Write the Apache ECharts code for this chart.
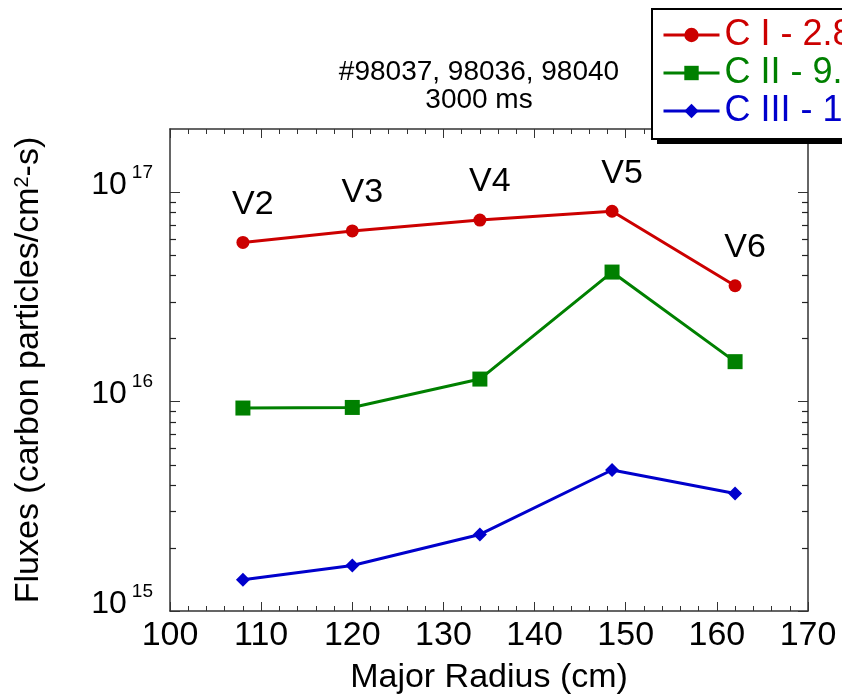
<!DOCTYPE html>
<html>
<head>
<meta charset="utf-8">
<title>Carbon fluxes vs major radius</title>
<script src="https://cdn.jsdelivr.net/npm/echarts@6/dist/echarts.min.js"></script>
<style>
    html, body { margin: 0; padding: 0; background: #fff; }
    #chartMain { width: 842px; height: 700px; }
</style>
</head>
<body>
<div id="chartMain"></div>
<script>
// values
const majorRadius = [108, 120, 134, 148.5, 162];
const cOneFlux = [5.75e16, 6.52e16, 7.35e16, 8.1e16, 3.57e16];
const cTwoFlux = [9.31e15, 9.37e15, 1.28e16, 4.15e16, 1.55e16];
const cThreeFlux = [1.41e15, 1.65e15, 2.32e15, 4.71e15, 3.64e15];
const stationLabels = ['V2', 'V3', 'V4', 'V5', 'V6'];
const seriesNames = ['C I - 2.8 eV', 'C II - 9. eV', 'C III - 1 eV'];
const seriesColors = ['#cc0000', '#008000', '#0000cc'];
const xTicks = [100, 170, 10];          // min, max, step
const yRange = [1e15, 2e17];
const minorMultipliers = [2, 3, 4, 5, 6, 7, 8, 9];
const minorDecades = [1e15, 1e16, 1e17];

const FONT = '"Liberation Sans", Arial, Helvetica, sans-serif';
const AXIS_COLOR = '#333';

const pairs = (xs, ys) => xs.map((x, i) => [x, ys[i]]);

const minorTickValues = () => {
    var out = [];
    minorDecades.forEach(function (d) {
        minorMultipliers.forEach(function (m) {
            var v = d * m;
            if (v < yRange[1]) { out.push([xTicks[0], v]); }
        });
    });
    return out;
};

const chartInit = () => {
    var chartDom = document.getElementById('chartMain');
    var myChart = echarts.init(chartDom, null, { renderer: 'canvas' });
    var option;

    var xAxisBase = {
        type: 'value',
        min: xTicks[0],
        max: xTicks[1],
        interval: xTicks[2],
        axisLine: { show: true, lineStyle: { color: AXIS_COLOR, width: 1.5 } },
        axisTick: { show: true, inside: true, length: 9, lineStyle: { color: AXIS_COLOR } },
        minorTick: { show: true, splitNumber: 5, length: 5, lineStyle: { color: AXIS_COLOR } },
        splitLine: { show: false },
        minorSplitLine: { show: false }
    };

    var yAxisBase = {
        type: 'log',
        logBase: 10,
        min: yRange[0],
        max: yRange[1],
        axisLine: { show: true, lineStyle: { color: AXIS_COLOR, width: 1.5 } },
        axisTick: { show: true, inside: true, length: 10, lineStyle: { color: AXIS_COLOR } },
        splitLine: { show: false }
    };

    var lineSeries = (idx, values, symbol, size) => ({
        name: seriesNames[idx],
        type: 'line',
        data: pairs(majorRadius, values),
        symbol: symbol,
        symbolSize: size,
        showAllSymbol: true,
        color: seriesColors[idx],
        lineStyle: { width: 3, color: seriesColors[idx] },
        itemStyle: { color: seriesColors[idx] },
        z: 3
    });

    var cOne = lineSeries(0, cOneFlux, 'circle', 13);
    cOne.label = {
        show: true,
        position: 'inside',
        offset: [10, -38],
        formatter: function (p) { return stationLabels[p.dataIndex]; },
        fontFamily: FONT,
        fontSize: 34,
        color: '#000'
    };

    option = {
        backgroundColor: '#fff',
        animation: false,
        textStyle: { fontFamily: FONT },
        title: {
            text: '#98037, 98036, 98040\n3000 ms',
            left: 474,
            top: 53,
            textAlign: 'center',
            textStyle: { fontFamily: FONT, fontSize: 28, fontWeight: 'normal', lineHeight: 28, color: '#000' }
        },
        // black offset block behind the legend box (the drop shadow)
        graphic: [{
            type: 'rect',
            left: 657,
            top: 14,
            z: 90,
            shape: { width: 400, height: 130 },
            style: { fill: '#000' },
            silent: true
        }],
        legend: {
            orient: 'vertical',
            left: 652,
            top: 9,
            z: 100,
            padding: [7, 10, 9, 10],
            itemGap: 0,
            itemWidth: 56,
            itemHeight: 18,
            backgroundColor: '#fff',
            borderColor: '#000',
            borderWidth: 2,
            borderRadius: 0,
            lineStyle: { width: 3 },
            data: seriesNames.map(function (n, i) {
                return { name: n, textStyle: { color: seriesColors[i] } };
            }),
            textStyle: { fontFamily: FONT, fontSize: 36, lineHeight: 38 }
        },
        grid: {
            left: 170,
            right: 34,
            top: 129,
            bottom: 85,
            containLabel: false
        },
        xAxis: [
            Object.assign({}, xAxisBase, {
                position: 'bottom',
                name: 'Major Radius (cm)',
                nameLocation: 'middle',
                nameGap: 50,
                nameTextStyle: { fontFamily: FONT, fontSize: 34, color: '#000', verticalAlign: 'top' },
                axisLabel: { show: true, margin: 8, fontFamily: FONT, fontSize: 34, color: '#000' }
            }),
            Object.assign({}, xAxisBase, {
                position: 'top',
                axisLabel: { show: false }
            })
        ],
        yAxis: [
            Object.assign({}, yAxisBase, {
                position: 'left',
                name: 'Fluxes (carbon particles/cm{s|2}-s)',
                nameLocation: 'middle',
                nameRotate: 90,
                nameGap: 124,
                nameTextStyle: {
                    fontFamily: FONT,
                    fontSize: 34,
                    color: '#000',
                    rich: {
                        s: { fontFamily: FONT, fontSize: 20, color: '#000', verticalAlign: 'top', lineHeight: 34 }
                    }
                },
                axisLabel: {
                    show: true,
                    margin: 17,
                    showMaxLabel: false,
                    padding: [0, 0, 20, 0],
                    formatter: function (v) {
                        var e = Math.round(Math.log10(v));
                        return '{b|10}{s|' + e + '}';
                    },
                    rich: {
                        b: { fontFamily: FONT, fontSize: 32, color: '#000', lineHeight: 38, verticalAlign: 'bottom' },
                        s: { fontFamily: FONT, fontSize: 19, color: '#000', lineHeight: 28, verticalAlign: 'top', padding: [0, 0, 0, 5] }
                    }
                }
            }),
            Object.assign({}, yAxisBase, {
                position: 'right',
                axisLabel: { show: false }
            })
        ],
        series: [
            cOne,
            lineSeries(1, cTwoFlux, 'rect', 15),
            lineSeries(2, cThreeFlux, 'diamond', 14),
            {
                name: 'minor ticks',
                type: 'custom',
                silent: true,
                clip: false,
                z: 1,
                data: minorTickValues(),
                renderItem: function (params, api) {
                    var v = api.value(1);
                    var pl = api.coord([xTicks[0], v]);
                    var pr = api.coord([xTicks[1], v]);
                    var y = Math.round(pl[1]) + 0.5;
                    var st = { stroke: '#222', lineWidth: 1.2 };
                    return {
                        type: 'group',
                        children: [
                            { type: 'line', shape: { x1: pl[0], y1: y, x2: pl[0] + 6, y2: y }, style: st },
                            { type: 'line', shape: { x1: pr[0], y1: y, x2: pr[0] - 6, y2: y }, style: st }
                        ]
                    };
                }
            }
        ]
    };

    option && myChart.setOption(option);
};

chartInit();
</script>
</body>
</html>
